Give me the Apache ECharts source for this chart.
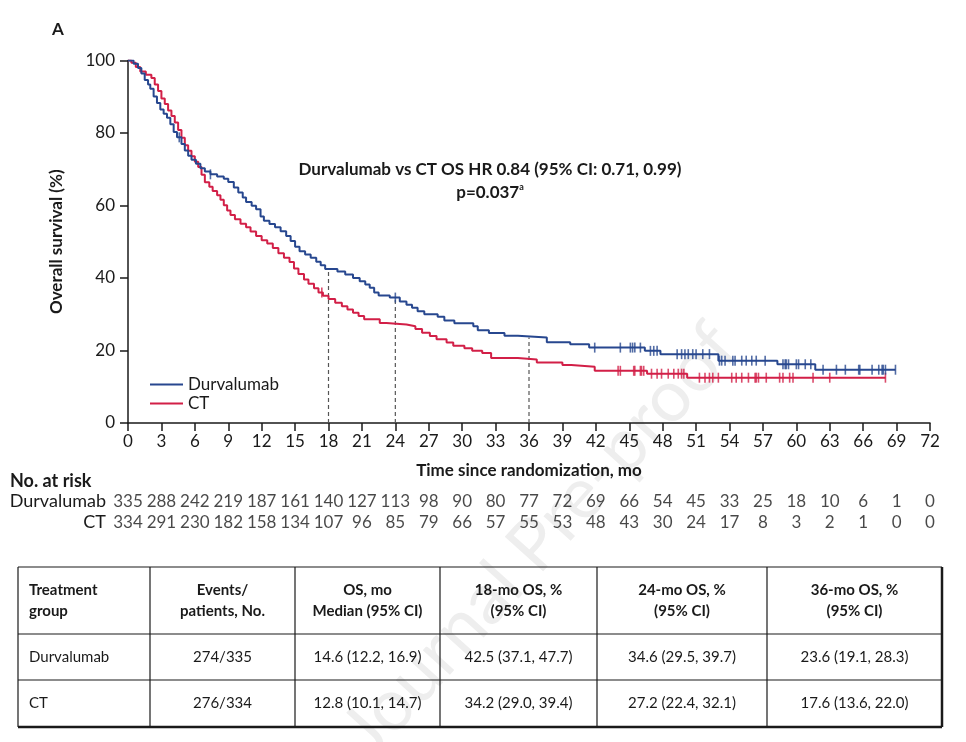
<!DOCTYPE html>
<html><head><meta charset="utf-8">
<script src="https://cdn.jsdelivr.net/npm/echarts@6/dist/echarts.min.js"></script>
<style>html,body{margin:0;padding:0;background:#fff}#c{width:966px;height:742px}</style>
</head><body><div id="c"></div>
<script>
// ---------- DATA ----------
const durT = [0,0.5,0.9,1.2,1.5,1.8,2.0,2.3,2.6,2.9,3.2,3.5,3.8,4.1,4.4,4.8,5.1,5.4,5.7,6.1,6.5,6.9,7.4,8.0,8.6,9.0,9.5,9.9,10.3,10.6,11.1,11.5,11.9,12.2,12.7,13.2,13.7,14.2,14.6,15.0,15.4,15.9,16.4,16.9,17.3,17.7,18.8,19.5,20.2,20.8,21.3,21.7,22.1,22.5,23.5,24.4,25.0,25.5,26.0,26.6,27.8,28.4,29.3,31.0,31.4,32.4,33.8,35.0,37.6,39.7,41.4,46.4,47.8,53.0,58.3,61.7,68.9];
const durS = [100,99.1,97.9,96.4,94.6,93.4,92.2,90.1,88.3,86.5,85.3,84.2,82.4,80.3,78.8,77.0,75.2,73.7,72.6,71.5,70.3,69.4,68.6,68.0,67.4,66.5,65.0,63.6,62.2,61.0,59.9,59.0,57.0,55.8,54.9,54.0,52.9,51.6,50.2,48.6,47.4,46.5,45.6,44.5,43.5,42.5,41.8,41.0,40.0,39.1,38.2,37.3,36.0,35.2,34.6,33.5,32.6,31.8,30.8,30.0,29.3,28.3,27.5,26.7,25.6,24.8,24.1,23.6,22.3,21.7,20.8,19.9,19.0,17.2,16.2,14.7,14.7];
const ctT = [0,0.3,0.7,1.1,1.6,2.1,2.4,2.7,3.0,3.3,3.6,3.9,4.2,4.5,4.8,5.1,5.4,5.7,6.0,6.3,6.6,6.9,7.3,7.6,8.0,8.3,8.6,8.9,9.2,9.6,10.1,10.6,11.0,11.5,12.0,12.5,13.0,13.5,14.0,14.5,14.9,15.3,15.8,16.2,16.7,17.1,17.5,18.0,18.6,19.2,19.7,20.2,20.7,21.2,22.6,23.2,25.0,25.8,26.4,27.1,27.7,28.6,29.2,30.2,30.9,31.8,32.6,35.0,36.7,39.0,39.8,41.9,46.6,50.2,68.0];
const ctS = [100,99.4,98.2,97.0,96.1,95.2,93.4,91.6,89.5,88.0,86.2,84.7,82.9,80.8,78.7,76.6,75.1,73.6,72.1,70.6,68.5,66.4,65.2,64.0,62.8,61.6,60.1,58.6,57.4,56.2,55.0,54.0,52.8,51.6,50.4,49.5,48.3,46.8,45.6,44.4,42.6,41.1,39.6,38.4,37.2,36.0,35.1,34.2,33.2,32.2,31.3,30.4,29.5,28.6,27.6,27.2,26.7,25.9,24.9,24.0,23.1,22.2,21.3,20.6,19.9,19.3,17.9,17.5,16.7,16.0,15.5,14.4,13.6,12.5,12.5];
const durCensor = [4.6,7.4,24.0,41.9,44.2,45.1,45.3,45.5,46.0,46.9,47.2,47.5,49.3,49.7,50.0,50.3,50.7,51.0,51.6,52.2,53.1,53.3,53.6,54.3,54.5,55.1,55.5,56.0,56.4,57.2,58.8,59.0,59.1,59.3,60.0,60.2,60.8,61.3,62.4,63.6,64.4,65.6,65.7,66.8,67.4,67.7,67.8,68.0,68.9];
const ctCensor = [17.4,44.0,44.2,45.4,45.5,46.0,46.1,46.3,47.0,47.5,47.9,48.5,49.0,49.4,49.7,49.9,51.3,51.8,52.2,52.5,53.0,54.2,54.6,55.1,55.7,56.3,56.4,56.6,57.3,58.5,58.8,59.4,59.7,61.5,63.0,68.0];
const riskTimes = [0,3,6,9,12,15,18,21,24,27,30,33,36,39,42,45,48,51,54,57,60,63,66,69,72];
const durRisk = [335,288,242,219,187,161,140,127,113,98,90,80,77,72,69,66,54,45,33,25,18,10,6,1,0];
const ctRisk  = [334,291,230,182,158,134,107,96,85,79,66,57,55,53,48,43,30,24,17,8,3,2,1,0,0];
const landmarkMonths = [18,24,36];
const durLandmark = [42.5,34.6,23.6];
const seriesNames = ['Durvalumab','CT'];
const tableHeader = ['Treatment\ngroup','Events/\npatients, No.','OS, mo\nMedian (95% CI)','18-mo OS, %\n(95% CI)','24-mo OS, %\n(95% CI)','36-mo OS, %\n(95% CI)'];
const tableRows = [
  ['Durvalumab','274/335','14.6 (12.2, 16.9)','42.5 (37.1, 47.7)','34.6 (29.5, 39.7)','23.6 (19.1, 28.3)'],
  ['CT','276/334','12.8 (10.1, 14.7)','34.2 (29.0, 39.4)','27.2 (22.4, 32.1)','17.6 (13.6, 22.0)']
];
const hrText = 'Durvalumab vs CT OS HR 0.84 (95% CI: 0.71, 0.99)';
const pText = 'p=0.037';

// ---------- STYLE ----------
const BLUE = '#27478f', RED = '#d21f47', INK = '#1a1a1a';
const FONT = 'Lato, "Noto Sans", sans-serif';

function stepVal(T, S, t){ let v = S[0]; for (let i=0;i<T.length;i++){ if (T[i] <= t) v = S[i]; } return v; }
const zip = (T,S) => T.map((t,i)=>[t,S[i]]);

const chart = echarts.init(document.getElementById('c'), null, {renderer:'canvas'});

const axisCommon = {
  axisLine:{show:true, lineStyle:{color:INK, width:1.5}},
  axisTick:{show:true, length:8, lineStyle:{color:INK, width:1.5}},
  splitLine:{show:false},
  axisLabel:{color:INK, fontSize:17, fontFamily:FONT}
};

// table graphics
const colX = [18,150,295,440,597,767,942];
const rowY = [567,634,680,727];
const g = [];
g.push({type:'text', x:58, y:30, style:{text:'A', fill:INK, fontFamily:FONT, fontWeight:'bold', fontSize:17, align:'center', verticalAlign:'middle'}});
g.push({type:'text', x:490, y:170, style:{text:hrText, fill:INK, fontFamily:FONT, fontWeight:'bold', fontSize:17, align:'center', verticalAlign:'middle'}});
g.push({type:'text', x:490, y:193, style:{text:pText+'{s|a}', fill:INK, fontFamily:FONT, fontWeight:'bold', fontSize:17, align:'center', verticalAlign:'middle', rich:{s:{fontSize:9, fontWeight:'bold', fontFamily:FONT, fill:INK, verticalAlign:'top', lineHeight:20}}}});
g.push({type:'text', x:10, y:481, style:{text:'No. at risk', fill:INK, fontFamily:FONT, fontWeight:'bold', fontSize:18, align:'left', verticalAlign:'middle'}});
// table lines
for (let i=0;i<colX.length;i++){
  const w = (i===colX.length-1)?2.5:1.2;
  g.push({type:'line', shape:{x1:colX[i], y1:rowY[0], x2:colX[i], y2:rowY[3]}, style:{stroke:INK, lineWidth:w}});
}
for (let j=0;j<rowY.length;j++){
  const w = (j===rowY.length-1)?2.5:1.2;
  g.push({type:'line', shape:{x1:colX[0], y1:rowY[j], x2:colX[colX.length-1], y2:rowY[j]}, style:{stroke:INK, lineWidth:w}});
}
const allRows = [tableHeader].concat(tableRows);
allRows.forEach((row, r) => {
  row.forEach((txt, c) => {
    const left = c===0;
    g.push({type:'text', x: left ? colX[0]+11 : (colX[c]+colX[c+1])/2, y:(rowY[r]+rowY[r+1])/2,
      style:{text:txt, fill:INK, fontFamily:FONT, fontSize:15, fontWeight: r===0?'bold':'normal', lineHeight:21,
        align: left?'left':'center', verticalAlign:'middle'}});
  });
});
// watermark
g.unshift({type:'text', x:540, y:540, rotation: 48*Math.PI/180, z:-10, silent:true,
  style:{text:'Journal Pre-proof', fill:'#eeeeee', fontFamily:FONT, fontSize:72, align:'center', verticalAlign:'middle'}});

const riskData = [];
riskTimes.forEach((t,i)=>{ riskData.push([t,'Durvalumab',durRisk[i]]); riskData.push([t,'CT',ctRisk[i]]); });

const option = {
  backgroundColor:'#fff',
  animation:false,
  textStyle:{fontFamily:FONT},
  grid:[
    {left:128, top:60.5, width:802, height:362.5, outerBoundsMode:'none', containLabel:false},
    {left:128, top:491, width:802, height:42, outerBoundsMode:'none', containLabel:false}
  ],
  xAxis:[
    Object.assign({}, axisCommon, {gridIndex:0, type:'value', min:0, max:72, interval:3,
      axisLabel:Object.assign({}, axisCommon.axisLabel, {margin:10}),
      name:'Time since randomization, mo', nameLocation:'middle', nameGap:39,
      nameTextStyle:{color:INK, fontSize:17, fontWeight:'bold', fontFamily:FONT}}),
    {gridIndex:1, type:'value', min:0, max:72, show:false}
  ],
  yAxis:[
    Object.assign({}, axisCommon, {gridIndex:0, type:'value', min:0, max:100, interval:20,
      axisLabel:Object.assign({}, axisCommon.axisLabel, {margin:13}),
      name:'Overall survival (%)', nameLocation:'middle', nameGap:63, nameRotate:90,
      nameTextStyle:{color:INK, fontSize:17, fontWeight:'bold', fontFamily:FONT}}),
    {gridIndex:1, type:'category', data:seriesNames, inverse:true,
      axisLine:{show:false}, axisTick:{show:false}, splitLine:{show:false},
      axisLabel:{color:INK, fontSize:18, fontFamily:FONT, margin:22, interval:0, hideOverlap:false}}
  ],
  legend:{data:seriesNames, orient:'vertical', left:145, top:371, itemWidth:33, itemHeight:2, itemGap:2, icon:'rect',
    textStyle:{color:INK, fontSize:17, fontFamily:FONT, lineHeight:17}},
  graphic:g,
  series:[
    ...landmarkMonths.map((m,i)=>({type:'line', xAxisIndex:0, yAxisIndex:0, silent:true, symbol:'none', z:1,
      data:[[m,0],[m,durLandmark[i]]], lineStyle:{color:'#555', width:1.2, type:[4,3]}})),
    {name:'Durvalumab', type:'line', step:'end', symbol:'none', data:zip(durT,durS), lineStyle:{color:BLUE, width:2}, itemStyle:{color:BLUE}, z:3},
    {name:'CT', type:'line', step:'end', symbol:'none', data:zip(ctT,ctS), lineStyle:{color:RED, width:2}, itemStyle:{color:RED}, z:2},
    {name:'durCensor', type:'scatter', symbol:'rect', symbolSize:[1.6,10], data:durCensor.map(t=>[t, stepVal(durT,durS,t)]), itemStyle:{color:BLUE}, z:3},
    {name:'ctCensor', type:'scatter', symbol:'rect', symbolSize:[1.6,10], data:ctCensor.map(t=>[t, stepVal(ctT,ctS,t)]), itemStyle:{color:RED}, z:2},
    {name:'risk', type:'scatter', xAxisIndex:1, yAxisIndex:1, symbolSize:0, silent:true,
      data:riskData, label:{show:true, position:'inside', formatter:p=>String(p.value[2]), color:INK, fontSize:17, fontFamily:FONT}}
  ]
};
chart.setOption(option);
</script></body></html>
